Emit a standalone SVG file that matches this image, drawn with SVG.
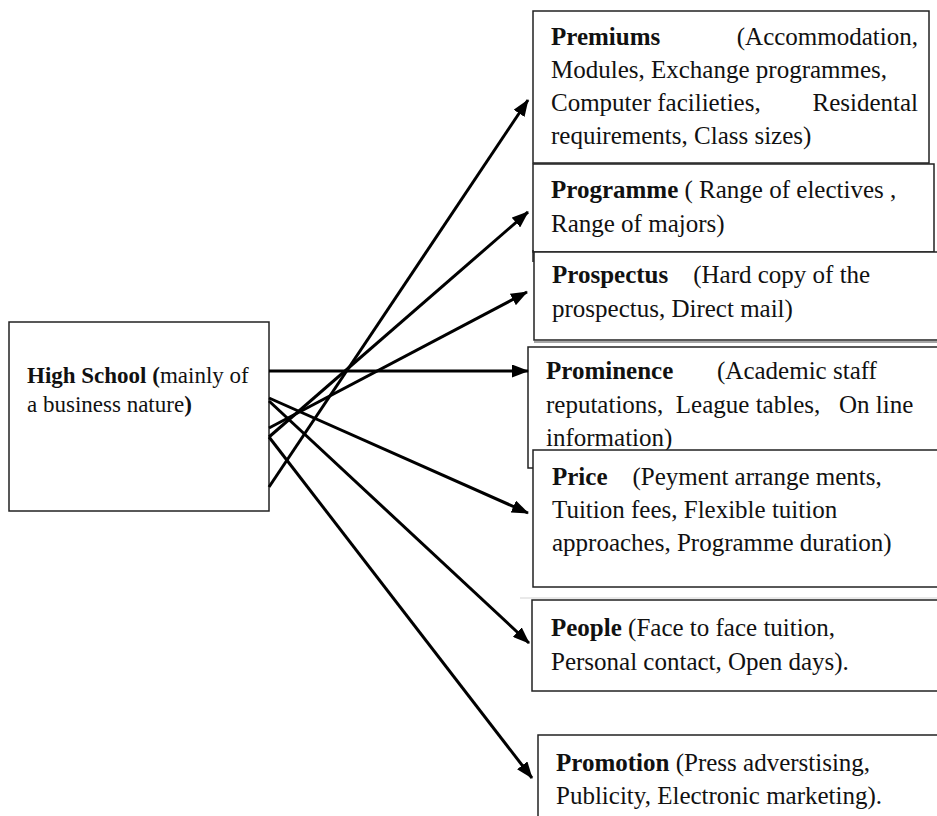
<svg xmlns="http://www.w3.org/2000/svg" width="937" height="816" viewBox="0 0 937 816">
<style>
.box{fill:#fff;stroke:#222;stroke-width:1.5}
.t{font-family:"Liberation Serif","Times New Roman",serif;font-size:25px;fill:#111;white-space:pre}
.hs{font-family:"Liberation Serif","Times New Roman",serif;font-size:23px;fill:#111;white-space:pre}
.b{font-weight:bold}
.c{stroke:#000;stroke-width:3;fill:none;marker-end:url(#ah)}
</style>
<defs>
<marker id="ah" markerUnits="userSpaceOnUse" markerWidth="17" markerHeight="13" refX="16" refY="6.5" orient="auto">
<path d="M0,0 L17,6.5 L0,13 z" fill="#000"/>
</marker>
</defs>
<rect width="937" height="816" fill="#fff"/>
<g id="high-school">
<rect class="box" x="9" y="322" width="260" height="189"/>
<text class="hs" x="27" y="383"><tspan class="b">High School (</tspan>mainly of</text>
<text class="hs" x="27" y="412">a business nature<tspan class="b">)</tspan></text>
</g>
<g id="premiums">
<rect class="box" x="533" y="11" width="396" height="152"/>
<text class="t b" x="551" y="45">Premiums</text>
<text class="t" x="918" y="45" text-anchor="end">(Accommodation,</text>
<text class="t" x="551" y="78">Modules, Exchange programmes,</text>
<text class="t" x="551" y="111">Computer facilieties,</text>
<text class="t" x="918" y="111" text-anchor="end">Residental</text>
<text class="t" x="551" y="144">requirements, Class sizes)</text>
</g>
<g id="programme">
<rect class="box" x="533" y="164" width="401" height="88"/>
<line x1="533" y1="250" x2="533" y2="262" stroke="#222" stroke-width="1.5"/>
<text class="t" x="551" y="198"><tspan class="b">Programme</tspan> ( Range of electives ,</text>
<text class="t" x="551" y="232">Range of majors)</text>
</g>
<g id="prospectus">
<rect class="box" x="534" y="252" width="410" height="88"/>
<line x1="534" y1="342" x2="937" y2="342" stroke="#888" stroke-width="1.5"/>
<text class="t" x="552" y="283"><tspan class="b">Prospectus</tspan>    (Hard copy of the</text>
<text class="t" x="552" y="317">prospectus, Direct mail)</text>
</g>
<g id="prominence">
<rect class="box" x="528" y="347" width="420" height="121"/>
<text class="t" x="546" y="379"><tspan class="b">Prominence</tspan>       (Academic staff</text>
<text class="t" x="546" y="413">reputations,  League tables,   On line</text>
<text class="t" x="546" y="446">information)</text>
</g>
<g id="price">
<rect class="box" x="533" y="450" width="415" height="137"/>
<text class="t" x="552" y="485"><tspan class="b">Price</tspan>    (Peyment arrange ments,</text>
<text class="t" x="552" y="518">Tuition fees, Flexible tuition</text>
<text class="t" x="552" y="551">approaches, Programme duration)</text>
</g>
<line x1="520" y1="598" x2="937" y2="598" stroke="#e2e2e2" stroke-width="1.5"/>
<g id="people">
<rect class="box" x="532" y="600" width="415" height="91"/>
<text class="t" x="551" y="636"><tspan class="b">People</tspan> (Face to face tuition,</text>
<text class="t" x="551" y="670">Personal contact, Open days).</text>
</g>
<g id="promotion">
<rect class="box" x="538" y="735" width="410" height="100"/>
<text class="t" x="556" y="771"><tspan class="b">Promotion</tspan> (Press adverstising,</text>
<text class="t" x="556" y="804">Publicity, Electronic marketing).</text>
</g>
<g id="connectors">
<line class="c" x1="269" y1="487" x2="528" y2="100"/>
<line class="c" x1="269" y1="437" x2="528" y2="212"/>
<line class="c" x1="269" y1="428" x2="527" y2="292"/>
<line class="c" x1="269" y1="371" x2="528" y2="371"/>
<line class="c" x1="269" y1="398" x2="528" y2="513"/>
<line class="c" x1="269" y1="401" x2="529" y2="643"/>
<line class="c" x1="269" y1="437" x2="532" y2="778"/>
</g>
</svg>
